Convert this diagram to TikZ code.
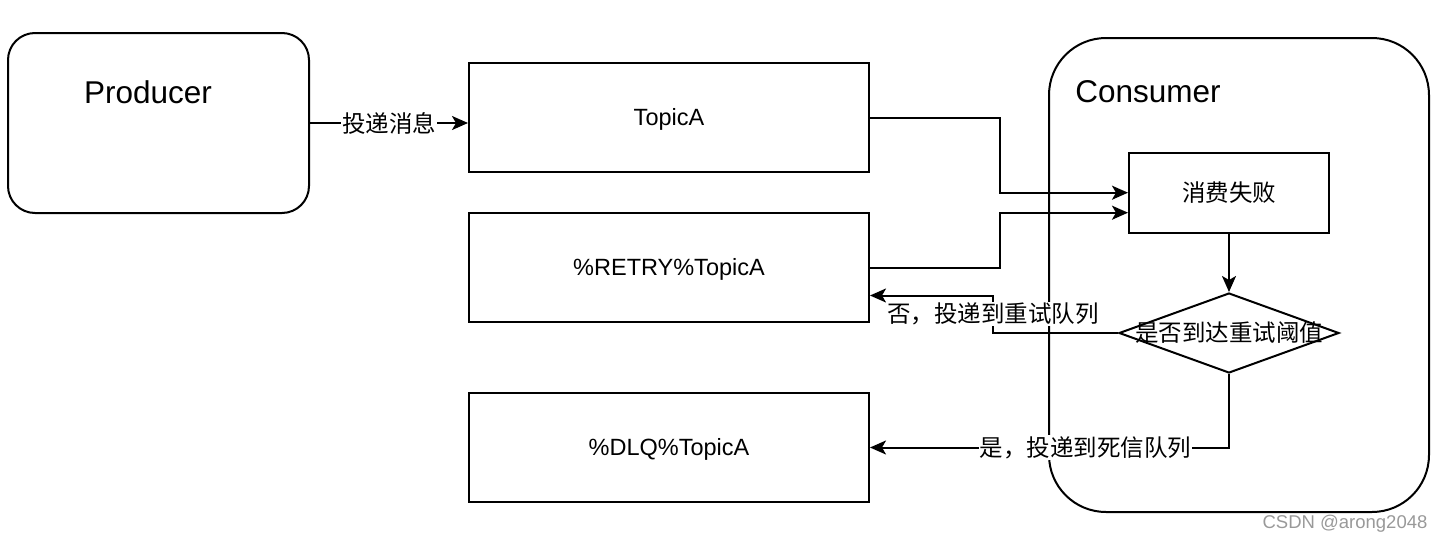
\documentclass[tikz,border=0pt]{standalone}
\usepackage{fontspec}
\setmainfont{Liberation Sans}
\newfontfamily\cjk{Noto Sans CJK SC}
\usetikzlibrary{arrows.meta,shapes.geometric}
\begin{document}
\begin{tikzpicture}[x=1pt,y=-1pt,
  box/.style={draw,line width=2pt,inner sep=0pt,minimum width=400pt,minimum height=109pt},
  boxtxt/.style={font=\fontsize{23.5}{26}\selectfont},
  rbox/.style={draw,line width=2pt,inner sep=0pt,rounded corners=#1},
  conn/.style={line width=2pt,-{Stealth[length=16pt,width=14pt,inset=4pt]}},
  lbl/.style={fill=white,inner sep=1pt,font=\cjk\fontsize{23.5}{26}\selectfont},
  big/.style={font=\fontsize{31.5}{36}\selectfont},
  cjktxt/.style={font=\cjk\fontsize{23.5}{26}\selectfont}
]
\useasboundingbox (0,0) rectangle (1444,544);

% containers
\node[rbox=27pt,minimum width=301pt,minimum height=180pt] (prod) at (158.5,123) {};
\node[big] (prodt) at (148,92) {Producer};
\node[rbox=57pt,minimum width=380pt,minimum height=474pt] (cons) at (1239,275) {};
\node[big] (const) at (1148,92) {Consumer};

% topics
\node[box] (topica) at (669,117.5) {};
\node[boxtxt] (topicat) at (669,119) {TopicA};
\node[box] (retry) at (669,267.5) {};
\node[boxtxt] (retryt) at (669,269.5) {\%RETRY\%TopicA};
\node[box] (dlq) at (669,447.5) {};
\node[boxtxt] (dlqt) at (669,449.5) {\%DLQ\%TopicA};

% consumer internals
\node[draw,line width=2pt,minimum width=200pt,minimum height=80pt,inner sep=0pt,cjktxt] (fail) at (1229,192.7) {消费失败};
\node[draw,line width=2pt,diamond,minimum width=220pt,minimum height=80pt,inner sep=0pt] (dia) at (1229,333) {};
\node[cjktxt] (diat) at (dia) {是否到达重试阈值};

% connectors
\draw[conn] (prod.east) -- node[lbl] (l1) {投递消息} (prod.east -| topica.west);
\draw[conn] (topica.east) -- ++(130,0) |- (fail.west);
\draw[conn] (retry.east) -- ++(130,0) |- ([yshift=-20pt]fail.west);
\draw[conn] (fail.south) -- (dia.north);
\draw[conn] (dia.west) -- ++(-125,0) |- node[lbl,pos=0.25] (l2) {否，投递到重试队列} ([yshift=-28pt]retry.east);
\draw[conn] (dia.south) |- node[lbl,pos=0.7] (l3) {是，投递到死信队列} (dlq.east);

% watermark
\node[text=black!40,font=\fontsize{18.5}{20}\selectfont] (wm) at (1345,524) {CSDN @arong2048};
\end{tikzpicture}
\end{document}
